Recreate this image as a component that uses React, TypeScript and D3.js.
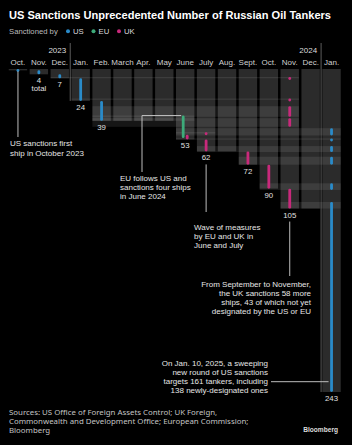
import React from "react";
import * as d3 from "d3";

const W = 352;
const H = 445;

// months shown as columns, Oct 2023 .. Jan 2025
const monthKeys = [
  "2023-10", "2023-11", "2023-12", "2024-01", "2024-02", "2024-03", "2024-04", "2024-05",
  "2024-06", "2024-07", "2024-08", "2024-09", "2024-10", "2024-11", "2024-12", "2025-01",
];
const monthLabels = [
  "Oct.", "Nov.", "Dec.", "Jan.", "Feb.", "March", "Apr.", "May",
  "June", "July", "Aug.", "Sept.", "Oct.", "Nov.", "Dec.", "Jan.",
];
// cumulative number of sanctioned tankers at each month
const cumulativeTotals = [1, 4, 7, 24, 39, 39, 39, 39, 53, 62, 62, 72, 90, 105, 105, 243];

// [month, first ship row, last ship row]
const usSegments: [string, number, number][] = [
  ["2023-10", 0, 1], ["2023-11", 1, 4], ["2023-12", 4, 7], ["2024-01", 7, 24], ["2024-02", 24, 39],
  ["2025-01", 44.5, 50], ["2025-01", 52.2, 53.2], ["2025-01", 58, 62.5], ["2025-01", 66, 72],
  ["2025-01", 86, 91], ["2025-01", 100, 243],
];
const euSegments: [string, number, number][] = [["2024-06", 35, 52]];
const ukSegments: [string, number, number][] = [
  ["2024-06", 49.5, 53], ["2024-07", 47.5, 48.5], ["2024-07", 53, 62], ["2024-09", 62, 72],
  ["2024-10", 72, 90], ["2024-11", 6, 7], ["2024-11", 22.2, 23.2], ["2024-11", 28, 36],
  ["2024-11", 37, 43.5], ["2024-11", 90, 105],
];

const COLORS: Record<string, string> = { US: "#2a8bc9", EU: "#3dab7a", UK: "#c8297b" };
const FONT = "'Liberation Sans', Arial, Helvetica, sans-serif";

export default function App() {
  const x = d3.scaleBand<string>().domain(monthKeys).range([7.5, 342]).paddingInner(0.12).paddingOuter(0.06);
  const y = d3.scaleLinear().domain([0, 243]).range([69, 392]);
  const cx = (k: string) => (x(k) as number) + x.bandwidth() / 2;
  const gap = x.step() - x.bandwidth();
  const totalOf = (k: string) => cumulativeTotals[monthKeys.indexOf(k)];

  const segs = [
    ...usSegments.map((s) => ({ who: "US", m: s[0], a: s[1], b: s[2] })),
    ...euSegments.map((s) => ({ who: "EU", m: s[0], a: s[1], b: s[2] })),
    ...ukSegments.map((s) => ({ who: "UK", m: s[0], a: s[1], b: s[2] })),
  ];
  const lanes = (m: string) => Array.from(new Set(segs.filter((s) => s.m === m).map((s) => s.who)));
  const laneX = (s: { who: string; m: string }) => {
    const l = lanes(s.m);
    if (l.length < 2) return cx(s.m);
    return cx(s.m) + (l.indexOf(s.who) - (l.length - 1) / 2) * 4;
  };

  // faint rows linking a ship's first sanction to a later one
  const bands = segs
    .map((s) => {
      const i = monthKeys.indexOf(s.m);
      const prev = i > 0 ? cumulativeTotals[i - 1] : 0;
      if (s.a >= prev) return null;
      const start = cumulativeTotals.findIndex((t) => t > s.a);
      return { x0: x(monthKeys[start]) as number, x1: (x(s.m) as number) + x.bandwidth(), a: s.a, b: Math.min(s.b, prev) };
    })
    .filter(Boolean) as { x0: number; x1: number; a: number; b: number }[];

  const sep23 = (x("2024-01") as number) - gap / 2;
  const sep24 = (x("2025-01") as number) - gap / 2;

  const annoText = { fill: "#e6e6e6", fontSize: 8, fontFamily: FONT };
  const lineStyle = { stroke: "#bdbdbd", strokeWidth: 1, fill: "none" };

  return (
    <svg width={W} height={H} style={{ position: "absolute", left: 0, top: 0, background: "#000" }}>
      <rect width={W} height={H} fill="#000" />
      <text x={9} y={18.5} fill="#fff" fontFamily={FONT} fontWeight="bold" fontSize={11}
        textLength={322} lengthAdjust="spacingAndGlyphs">
        US Sanctions Unprecedented Number of Russian Oil Tankers
      </text>

      {/* legend */}
      <g fontFamily={FONT} fontSize={7.7}>
        <text x={9} y={34} fill="#bbb">Sanctioned by</text>
        {["US", "EU", "UK"].map((k, i) => (
          <g key={k} transform={`translate(${68 + i * 25.5},0)`}>
            <circle cx={0} cy={31.3} r={2} fill={COLORS[k]} />
            <text x={5} y={34} fill="#ddd">{k}</text>
          </g>
        ))}
      </g>

      {/* year labels & separators */}
      <g fontFamily={FONT} fontSize={8} fill="#ddd" textAnchor="end">
        <text x={sep23 - 4} y={52.5}>2023</text>
        <text x={sep24 - 4} y={52.5}>2024</text>
      </g>
      <line x1={sep23} x2={sep23} y1={43} y2={y(totalOf("2024-01"))} stroke="#5c5c5c" />
      <line x1={sep24} x2={sep24} y1={43} y2={y(totalOf("2025-01"))} stroke="#5c5c5c" />

      {/* month labels */}
      <g fontFamily={FONT} fontSize={8} fill="#cfcfcf" textAnchor="middle">
        {monthKeys.map((k, i) => (
          <text key={k} x={cx(k)} y={65}>{monthLabels[i]}</text>
        ))}
      </g>

      {/* month columns */}
      {monthKeys.map((k, i) => (
        <rect key={k} x={x(k)} y={y(0)} width={x.bandwidth()} height={y(cumulativeTotals[i]) - y(0)} fill="#2b2b2b" />
      ))}

      {/* link rows */}
      {bands.map((b, i) => (
        <rect key={i} x={b.x0} y={y(b.a)} width={b.x1 - b.x0} height={Math.max(y(b.b) - y(b.a), 1.3)} fill="#fff" opacity={0.085} />
      ))}

      {/* sanction segments */}
      {segs.map((s, i) => {
        const h = Math.max(y(s.b) - y(s.a), 3);
        return (
          <rect key={i} x={laneX(s) - 1.4} y={y(s.a)} width={2.8} height={h} rx={1.4} fill={COLORS[s.who]} />
        );
      })}

      {/* totals */}
      <g fontFamily={FONT} fontSize={7.8} fill="#e0e0e0" textAnchor="middle">
        {monthKeys.map((k, i) =>
          i > 0 && cumulativeTotals[i] !== cumulativeTotals[i - 1] ? (
            <text key={k} x={cx(k)} y={y(cumulativeTotals[i]) + 9}>{cumulativeTotals[i]}</text>
          ) : null
        )}
        <text x={cx("2023-11")} y={y(totalOf("2023-11")) + 17}>total</text>
      </g>

      {/* annotations */}
      <line x1={cx("2023-10")} x2={cx("2023-10")} y1={y(1) + 1} y2={137} {...lineStyle} />
      <text {...annoText}>
        <tspan x={10} y={146}>US sanctions first</tspan>
        <tspan x={10} y={155.5}>ship in October 2023</tspan>
      </text>

      <polyline points={`${laneX({ who: "EU", m: "2024-06" }) - 2},${y(35)} 142,${y(35)} 142,172`} {...lineStyle} />
      <text {...annoText}>
        <tspan x={120} y={180.5}>EU follows US and</tspan>
        <tspan x={120} y={189.5}>sanctions four ships</tspan>
        <tspan x={120} y={198.5}>in June 2024</tspan>
      </text>

      <line x1={cx("2024-07")} x2={cx("2024-07")} y1={y(62) + 13} y2={212} {...lineStyle} />
      <text {...annoText}>
        <tspan x={194} y={230}>Wave of measures</tspan>
        <tspan x={194} y={239}>by EU and UK in</tspan>
        <tspan x={194} y={248}>June and July</tspan>
      </text>

      <line x1={cx("2024-11")} x2={cx("2024-11")} y1={y(105) + 13} y2={276} {...lineStyle} />
      <text {...annoText} textAnchor="end">
        <tspan x={311} y={287}>From September to November,</tspan>
        <tspan x={311} y={296}>the UK sanctions 58 more</tspan>
        <tspan x={311} y={305}>ships, 43 of which not yet</tspan>
        <tspan x={311} y={314}>designated by the US or EU</tspan>
      </text>

      <line x1={271} x2={cx("2025-01") - 3} y1={381.7} y2={381.7} {...lineStyle} />
      <text {...annoText} textAnchor="end">
        <tspan x={268} y={366}>On Jan. 10, 2025, a sweeping</tspan>
        <tspan x={268} y={375}>new round of US sanctions</tspan>
        <tspan x={268} y={384}>targets 161 tankers, including</tspan>
        <tspan x={268} y={393}>138 newly-designated ones</tspan>
      </text>

      {/* footer */}
      <text fill="#c4c4c4" fontSize={7.85} fontFamily="'Noto Sans', 'Open Sans', sans-serif">
        <tspan x={9} y={415}>Sources: US Office of Foreign Assets Control; UK Foreign,</tspan>
        <tspan x={9} y={424}>Commonwealth and Development Office; European Commission;</tspan>
        <tspan x={9} y={433}>Bloomberg</tspan>
      </text>
      <text x={338} y={432} textAnchor="end" fill="#ddd" fontFamily={FONT} fontWeight="bold" fontSize={6.6}>
        Bloomberg
      </text>
    </svg>
  );
}
